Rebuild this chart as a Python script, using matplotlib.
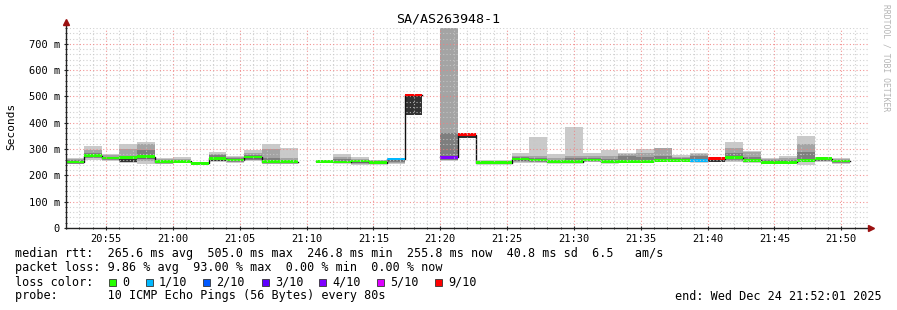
import numpy as np
import pandas as pd
import matplotlib
matplotlib.use("Agg")
import matplotlib.pyplot as plt
import matplotlib.dates as mdates
from matplotlib.patches import Rectangle
from matplotlib.ticker import FixedLocator, MultipleLocator

nan = np.nan

# ---------------- data ----------------
title = "SA/AS263948-1"
start_time = "2025-12-24 20:52:00"
end_time = "2025-12-24 21:52:00"
step_seconds = 80

median_ms = [251, 275, 266, 268, 271, 252, 253, 246, 265, 259, 270, 252, 252, nan,
             253, 251, 254, 248, 262, 505, nan, 268, 355, 248, 248, 262, 258, 252,
             252, 258, 252, 253, 253, 257, 257, 256, 264, 267, 257, 249, 250, 257,
             264, 254]
loss_pings = [0, 0, 0, 0, 0, 0, 0, 0, 0, 0, 0, 0, 0, 10,
              0, 0, 0, 0, 1, 9, 10, 4, 9, 0, 0, 0, 0, 0,
              0, 0, 0, 0, 0, 0, 0, 1, 9, 0, 0, 0, 0, 0,
              0, 0]

# smoke bands (ping spread), outer -> inner
outer_lo = [242, 258, 256, 248, 243, 244, 246, 243, 251, 247, 253, 245, 243, nan,
            247, 246, 240, 243, 245, 430, nan, 255, 341, 244, 245, 248, 248, 248,
            246, 250, 246, 248, 248, 252, 252, 254, 252, 250, 246, 242, 243, 240,
            252, 244]
outer_hi = [266, 313, 282, 318, 327, 266, 268, 250, 287, 272, 297, 320, 305, nan,
            260, 280, 268, 260, 262, 502, nan, 1000, 352, 259, 259, 286, 344, 280,
            382, 286, 297, 284, 302, 304, 278, 286, 264, 326, 293, 265, 275, 351,
            268, 266]
mid_lo = [244, 266, 260, 252, 255, 246, 248, 244, 255, 250, 258, 250, 246, nan,
          249, 249, 243, 245, 247, 430, nan, 258, 341, 246, 246, 252, 252, 250,
          250, 253, 249, 255, 252, 254, 254, 256, 252, 255, 250, 245, 246, 250,
          254, 247]
mid_hi = [262, 295, 276, 300, 318, 262, 263, 249, 282, 268, 285, 300, 265, nan,
          258, 270, 264, 257, 260, 502, nan, 1000, 352, 256, 256, 275, 275, 265,
          275, 272, 275, 280, 285, 303, 270, 280, 262, 305, 290, 262, 265, 320,
          266, 262]
inner_lo = [246, 270, 262, 252, 262, 248, 249, 245, 258, 253, 260, 252, 248, nan,
            250, 250, 246, 246, 249, 430, nan, 260, 341, 247, 247, 255, 254, 251,
            252, 255, 250, 260, 255, 256, 255, 258, 252, 262, 253, 247, 248, 252,
            256, 249]
inner_hi = [258, 285, 270, 275, 296, 258, 258, 248, 276, 265, 276, 265, 258, nan,
            257, 262, 260, 254, 258, 502, nan, 360, 352, 254, 254, 268, 265, 258,
            265, 265, 262, 274, 270, 275, 265, 272, 260, 285, 270, 258, 258, 288,
            264, 258]
dark_lo = [nan, nan, nan, 250, nan, nan, nan, nan, 255, nan, nan, nan, nan, nan,
           nan, nan, nan, nan, nan, 430, nan, 262, 341, nan, nan, nan, nan, nan,
           nan, nan, nan, nan, nan, nan, nan, nan, 252, nan, nan, nan, nan, nan,
           nan, nan]
dark_hi = [nan, nan, nan, 261, nan, nan, nan, nan, 259, nan, nan, nan, nan, nan,
           nan, nan, nan, nan, nan, 502, nan, 266, 352, nan, nan, nan, nan, nan,
           nan, nan, nan, nan, nan, nan, nan, nan, 259, nan, nan, nan, nan, nan,
           nan, nan]

loss_levels = [0, 1, 2, 3, 4, 5, 9]
loss_labels = ["0", "1/10", "2/10", "3/10", "4/10", "5/10", "9/10"]
loss_colors = ["#26ff00", "#00b8ff", "#0059ff", "#5e00ff", "#7e00ff", "#dd00ff", "#ff0000"]

y_ticks = [0, 100, 200, 300, 400, 500, 600, 700]
y_tick_labels = ["0", "100 m", "200 m", "300 m", "400 m", "500 m", "600 m", "700 m"]
y_max = 760

stat_line_1 = "median rtt:  265.6 ms avg  505.0 ms max  246.8 ms min  255.8 ms now  40.8 ms sd  6.5   am/s"
stat_line_2 = "packet loss: 9.86 % avg  93.00 % max  0.00 % min  0.00 % now"
stat_line_3 = "loss color:"
stat_line_4 = "probe:       10 ICMP Echo Pings (56 Bytes) every 80s"
end_text = "end: Wed Dec 24 21:52:01 2025"
watermark = "RRDTOOL / TOBI OETIKER"

# ---------------- figure ----------------
W, H = 897, 310
mono = "DejaVu Sans Mono"
plt.rcParams["font.family"] = [mono, "DejaVu Sans"]

fig = plt.figure(figsize=(W / 100, H / 100), dpi=100, facecolor="white")
ax = fig.add_axes([66 / W, (H - 228) / H, (868 - 66) / W, 200 / H])
ax.set_facecolor("white")

n = len(median_ms)
times = pd.date_range(start_time, periods=n, freq=f"{step_seconds}s")
t = mdates.date2num(times)
w = step_seconds / 86400.0


def band(lo, hi, color, z):
    lo = np.asarray(lo, float)
    hi = np.asarray(hi, float)
    ok = ~(np.isnan(lo) | np.isnan(hi))
    ax.bar(t[ok], (hi - lo)[ok], bottom=lo[ok], width=w, align="edge",
           color=color, linewidth=0, antialiased=False, zorder=z)


band(outer_lo, outer_hi, "#cacaca", 1.0)
band(mid_lo, mid_hi, "#a4a4a4", 1.1)
band(inner_lo, inner_hi, "#7e7e7e", 1.2)
band(dark_lo, dark_hi, "#323232", 1.3)

med = np.asarray(median_ms, float)
tt = np.append(t, t[-1] + w)
mm = np.append(med, med[-1])
ax.step(tt, mm, where="post", color="#101010", lw=1.0, zorder=1.5)


def loss_color(l):
    for lv, c in zip(loss_levels, loss_colors):
        if l <= lv:
            return c
    return loss_colors[-1]


ok = ~np.isnan(med)
cols = [loss_color(l) for l, k in zip(loss_pings, ok) if k]
ax.bar(t[ok], 10, bottom=med[ok] - 5, width=w, align="edge", color=cols,
       linewidth=0, antialiased=False, zorder=1.8)

x0 = mdates.date2num(pd.Timestamp(start_time))
x1 = mdates.date2num(pd.Timestamp(end_time))
ax.set_xlim(x0, x1)
ax.set_ylim(0, y_max)

ax.xaxis.set_major_locator(mdates.MinuteLocator(byminute=range(0, 60, 5)))
ax.xaxis.set_minor_locator(mdates.MinuteLocator())
ax.xaxis.set_major_formatter(mdates.DateFormatter("%H:%M"))
ax.yaxis.set_major_locator(FixedLocator(y_ticks))
ax.yaxis.set_minor_locator(MultipleLocator(20))
ax.set_yticklabels(y_tick_labels)

ax.grid(which="minor", color="#c8c8c8", linestyle=(0, (1, 2)), lw=0.8, alpha=0.85, zorder=3)
ax.grid(which="major", color="#f08080", linestyle=(0, (1, 2)), lw=0.8, alpha=0.85, zorder=3)
ax.set_axisbelow(False)

for s in ax.spines.values():
    s.set_visible(False)
ax.tick_params(which="major", length=2.5, width=0.8, color="#222222", direction="inout",
               labelsize=7.5, pad=3)
ax.tick_params(which="minor", length=1.5, width=0.6, color="#222222", direction="inout")
for lab in ax.get_xticklabels() + ax.get_yticklabels():
    lab.set_family(mono)

# axes lines with arrows
ax.plot([0, 0], [0, 1 + 4 / 200], transform=ax.transAxes, color="#222222", lw=1,
        clip_on=False, zorder=5)
ax.plot([0, 1 + 2 / 802], [0, 0], transform=ax.transAxes, color="#222222", lw=1,
        clip_on=False, zorder=5)
ax.plot([0], [1 + 6 / 200], marker="^", ms=4, color="#9b1010", transform=ax.transAxes,
        clip_on=False, zorder=6)
ax.plot([1 + 3 / 802], [0], marker=">", ms=4, color="#9b1010", transform=ax.transAxes,
        clip_on=False, zorder=6)

# texts
fig.text(448 / W, 1 - 19 / H, title, ha="center", va="center", fontsize=9.6, family=mono)
fig.text(11 / W, 1 - 126 / H, "Seconds", rotation=90, ha="center", va="center",
         fontsize=8, family=mono)
fig.text(886 / W, 1 - 58 / H, watermark, rotation=270, ha="center", va="center",
         fontsize=5.8, family=mono, color="#b4b4b4")

lx = 15 / W
fs = 8.5
fig.text(lx, 1 - 254 / H, stat_line_1, ha="left", va="center", fontsize=fs, family=mono)
fig.text(lx, 1 - 268 / H, stat_line_2, ha="left", va="center", fontsize=fs, family=mono)
fig.text(lx, 1 - 282 / H, stat_line_3, ha="left", va="center", fontsize=fs, family=mono)
fig.text(lx, 1 - 296 / H, stat_line_4, ha="left", va="center", fontsize=fs, family=mono)
fig.text(882 / W, 1 - 296 / H, end_text, ha="right", va="center", fontsize=fs, family=mono)

square_x = [109, 146, 203, 262, 319, 377, 435]
for sx, lab, c in zip(square_x, loss_labels, loss_colors):
    fig.add_artist(Rectangle((sx / W, 1 - 285.5 / H), 7 / W, 7 / H, transform=fig.transFigure,
                             facecolor=c, edgecolor="#333333", lw=0.6))
    fig.text((sx + 13) / W, 1 - 282 / H, lab, ha="left", va="center", fontsize=fs, family=mono)

fig.savefig("out.png", dpi=100, facecolor="white")
